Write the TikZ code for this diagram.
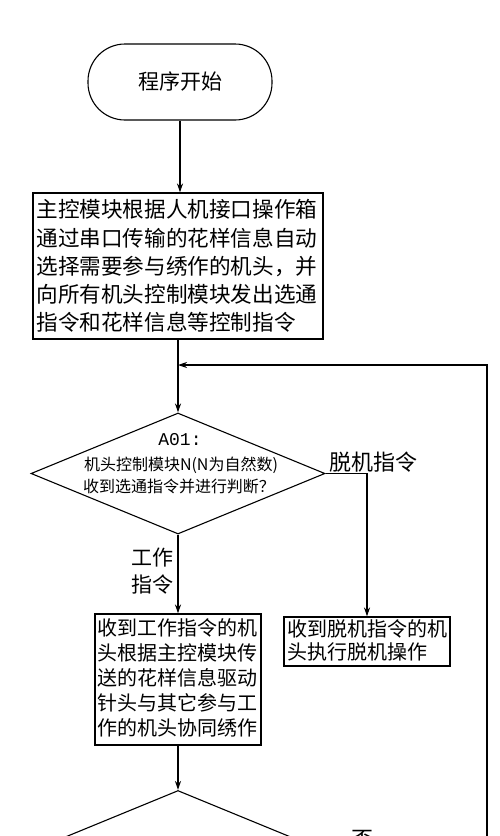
\documentclass[tikz,border=0pt]{standalone}
\usepackage{fontspec}
\setmainfont{Noto Sans CJK SC}
\newfontfamily\monofnt{Liberation Mono}
\usetikzlibrary{shapes.geometric,arrows.meta}
\tikzset{
  every picture/.style={line width=1.1pt},
  flowline/.style={draw=black, line width=1.1pt},
  arr/.style={flowline, -{Stealth[length=9pt,width=6pt]}},
  procbox/.style={draw=black, line width=1.1pt, rectangle, inner sep=0pt, align=left, anchor=center},
  decision/.style={draw=black, line width=1.1pt, diamond, inner sep=0pt, minimum width=294pt, minimum height=121pt},
  terminal/.style={draw=black, line width=1.1pt, rectangle, rounded corners=37pt, minimum width=184pt, minimum height=76pt, inner sep=0pt},
  lbl/.style={inner sep=0pt, text=black}
}
\begin{document}
\begin{tikzpicture}[x=1pt,y=-1pt]
\useasboundingbox (0,0) rectangle (500,836);
\clip (0,0) rectangle (500,836);
\fill[white] (0,0) rectangle (500,836);

% start
\node[terminal] (start) at (180,82) {};
\node[lbl, font=\fontsize{21}{24}\selectfont] (starttxt) at (180,82) {程序开始};

% box 1
\node[procbox, minimum width=290pt, minimum height=146pt] (box1) at (178,266) {};
\node[lbl, align=left, text width=286pt, font=\fontsize{21.6}{28.2}\selectfont] (box1txt) at (179.5,266) {主控模块根据人机接口操作箱\\通过串口传输的花样信息自动\\选择需要参与绣作的机头，并\\向所有机头控制模块发出选通\\指令和花样信息等控制指令};

% decision 1
\node[decision] (d1) at (178,473.5) {};
\node[lbl, font=\monofnt\fontsize{18}{20}\selectfont] (d1a) at (180,440) {A01:};
\node[lbl, font=\fontsize{16}{18}\selectfont] (d1b) at (181,465) {机头控制模块N(N为自然数)};
\node[lbl, font=\fontsize{16}{18}\selectfont] (d1c) at (179,486) {收到选通指令并进行判断？};

% labels
\node[lbl, font=\fontsize{22}{24}\selectfont] (offlbl) at (373,462) {脱机指令};
\node[lbl, align=right, font=\fontsize{21}{27}\selectfont] (worklbl) at (152,571.5) {工作\\指令};

% box 2
\node[procbox, minimum width=166pt, minimum height=131pt] (box2) at (178,679.5) {};
\node[lbl, align=left, text width=162pt, font=\fontsize{20}{25}\selectfont] (box2txt) at (178.5,678) {收到工作指令的机\\头根据主控模块传\\送的花样信息驱动\\针头与其它参与工\\作的机头协同绣作};

% box 3
\node[procbox, minimum width=166pt, minimum height=49pt] (box3) at (367,641.5) {};
\node[lbl, align=left, text width=162pt, font=\fontsize{20}{23}\selectfont] (box3txt) at (368,640.5) {收到脱机指令的机\\头执行脱机操作};

% decision 2 (cut off)
\node[decision] (d2) at (178,851) {};
\node[lbl, font=\fontsize{22}{24}\selectfont] (nolbl) at (362,840) {否};

% feedback
\coordinate (fbbot) at (487,900);
\coordinate (fbjoin) at (178,365);

% connectors
\draw[arr] (start.south) -- (start.south |- box1.north);
\draw[arr] (box1.south) -- (d1.north);
\draw[arr] (fbbot) |- (fbjoin);
\draw[arr] (d1.east) -| (box3.north);
\draw[arr] (d1.south) -- (box2.north);
\draw[arr] (box2.south) -- (d2.north);
\end{tikzpicture}
\end{document}
